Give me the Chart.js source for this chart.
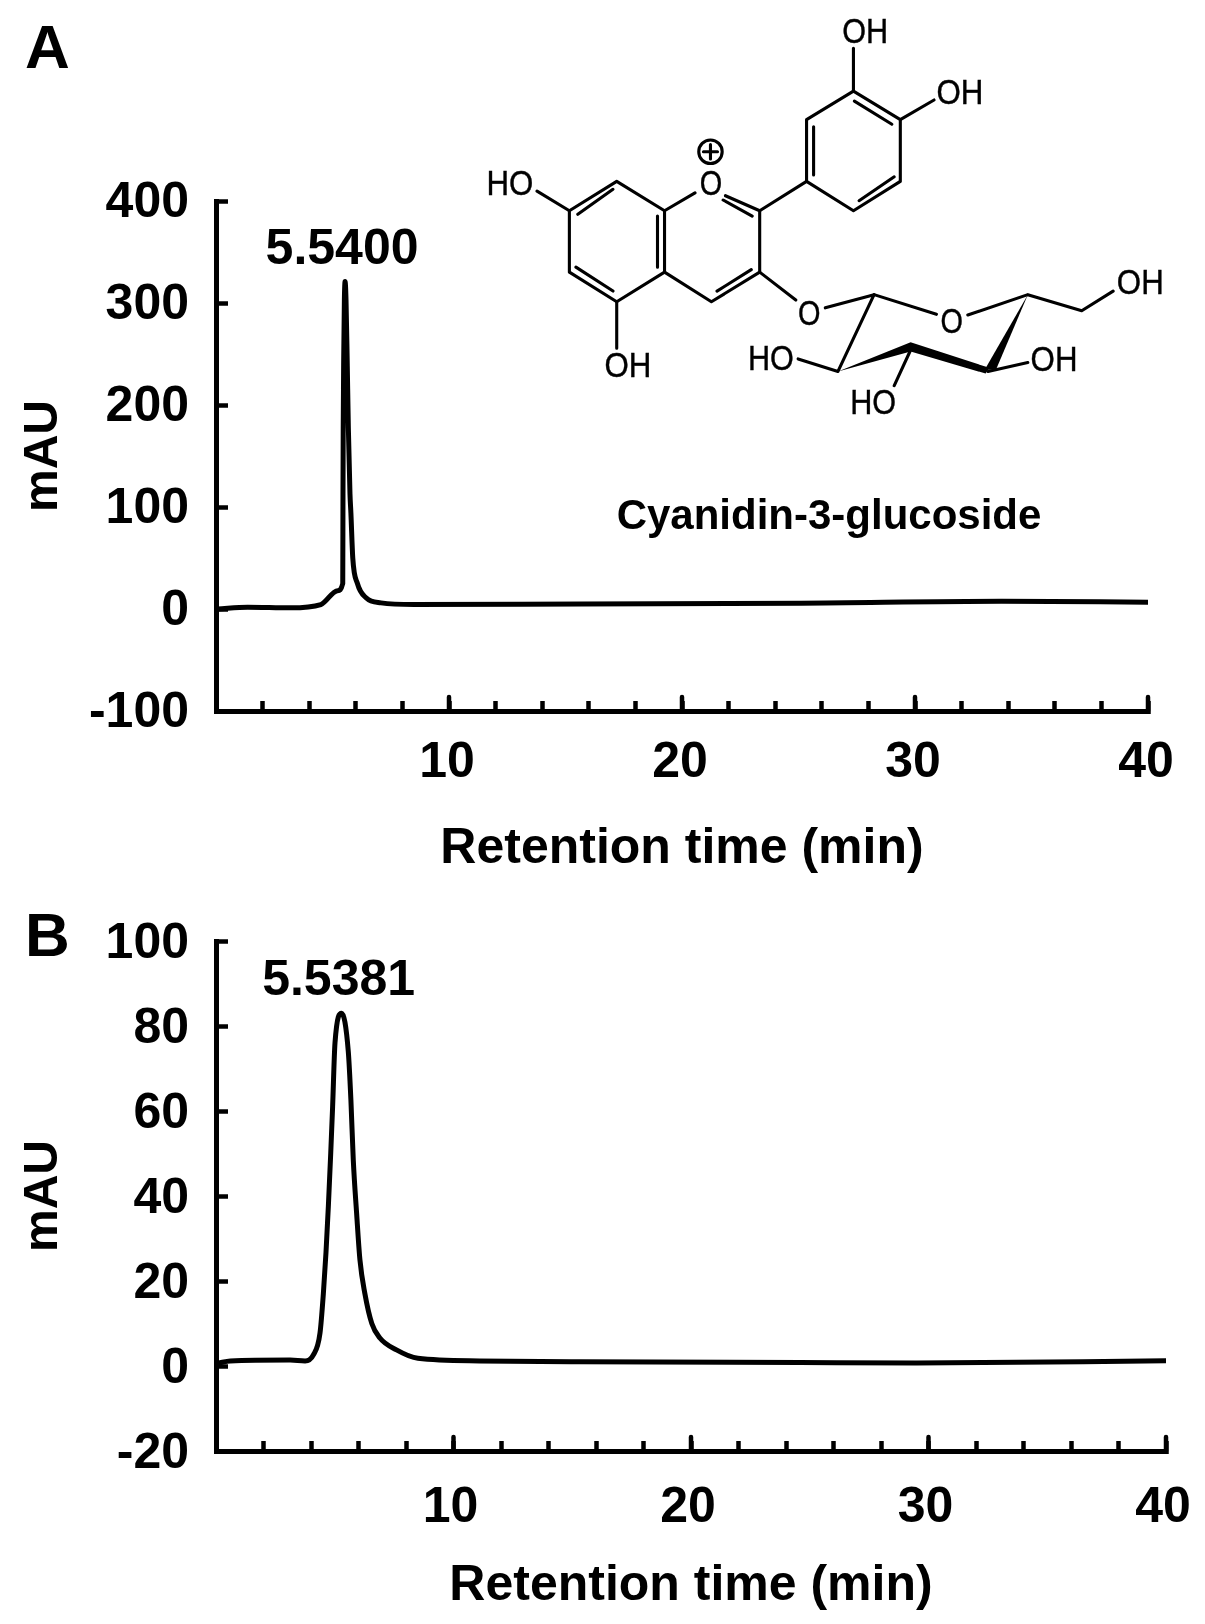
<!DOCTYPE html>
<html>
<head>
<meta charset="utf-8">
<script src="https://cdn.jsdelivr.net/npm/chart.js@4"></script>
<style>
html,body{margin:0;padding:0;background:#fff;}
#page{position:relative;width:1205px;height:1624px;overflow:hidden;background:#fff;font-family:"Liberation Sans",Arial,sans-serif;color:#000;}
canvas{position:absolute;left:0;display:block;}
.panel{position:absolute;font:bold 62px/62px "Liberation Sans",Arial,sans-serif;color:#000;}
svg{position:absolute;left:470px;top:0;}
.atoms text{vector-effect:non-scaling-stroke;stroke:#000;stroke-width:.5;}
</style>
</head>
<body>
<div id="page">
  <canvas id="chartA" width="1205" height="880" style="top:0"></canvas>
  <canvas id="chartB" width="1205" height="744" style="top:880px"></canvas>
  <div class="panel" style="left:25px;top:16px">A</div>
  <div class="panel" style="left:25px;top:904px">B</div>
  <svg width="735" height="560" viewBox="0 0 1568 1568" preserveAspectRatio="none" font-family="Liberation Sans, Arial, sans-serif" fill="#000">
    <g stroke="#000" stroke-width="3.1" fill="none" stroke-linecap="round" stroke-linejoin="round">
      <path vector-effect="non-scaling-stroke" d="M818 255L918 335L918 508L818 590L718 508L718 335Z"/>
      <path vector-effect="non-scaling-stroke" d="M820 283L900 348M905 495L830 562M733 490L733 355"/>
      <path vector-effect="non-scaling-stroke" d="M818 255L818 135M918 335L990 280M718 508L618 590"/>
      <path vector-effect="non-scaling-stroke" d="M415 590L480 540M545 548L618 590L618 762L515 845L415 762L415 590"/>
      <path vector-effect="non-scaling-stroke" d="M540 560L602 605M600 755L527 815M400 605L400 748"/>
      <path vector-effect="non-scaling-stroke" d="M415 590L313 508L212 590L212 762L313 845L415 762"/>
      <path vector-effect="non-scaling-stroke" d="M305 530L230 600M226 748L305 815"/>
      <path vector-effect="non-scaling-stroke" d="M212 590L143 535M313 845L313 975"/>
      <ellipse vector-effect="non-scaling-stroke" cx="513" cy="425" rx="25" ry="33"/>
      <path vector-effect="non-scaling-stroke" d="M513 405L513 445M498 425L528 425"/>
      <path vector-effect="non-scaling-stroke" d="M618 762L695 840M758 862L862 825L995 880M1062 882L1190 825L1305 870L1372 815"/>
      <path vector-effect="non-scaling-stroke" d="M862 825L785 1040M700 1005L785 1040M1105 1040L1190 1015M940 980L905 1080"/>
    </g>
    <polygon points="785,1040 940,958 1108,1030 1100,1046 940,984" fill="#000"/>
    <polygon points="1190,825 1098,1035 1122,1035" fill="#000"/>
    <g class="atoms" font-size="98" text-anchor="middle">
      <text x="843" y="120" textLength="98" lengthAdjust="spacingAndGlyphs">OH</text>
      <text x="1045" y="290" textLength="100" lengthAdjust="spacingAndGlyphs">OH</text>
      <text x="85" y="545" textLength="100" lengthAdjust="spacingAndGlyphs">HO</text>
      <text x="514" y="545" textLength="48" lengthAdjust="spacingAndGlyphs">O</text>
      <text x="337" y="1055" textLength="100" lengthAdjust="spacingAndGlyphs">OH</text>
      <text x="724" y="910" textLength="48" lengthAdjust="spacingAndGlyphs">O</text>
      <text x="1028" y="932" textLength="48" lengthAdjust="spacingAndGlyphs">O</text>
      <text x="1430" y="823" textLength="100" lengthAdjust="spacingAndGlyphs">OH</text>
      <text x="642" y="1035" textLength="98" lengthAdjust="spacingAndGlyphs">HO</text>
      <text x="1246" y="1040" textLength="100" lengthAdjust="spacingAndGlyphs">OH</text>
      <text x="860" y="1158" textLength="98" lengthAdjust="spacingAndGlyphs">HO</text>
    </g>
  </svg>
  <svg width="735" height="560" font-family="Liberation Sans, Arial, sans-serif" fill="#000">
    <text x="359" y="529" font-size="42" font-weight="bold" text-anchor="middle">Cyanidin-3-glucoside</text>
  </svg>
</div>
<script>
const timeA = [0.07,1.36,3.2,4.5,5.22,5.44,5.45,5.46,5.48,5.51,5.54,5.58,5.63,5.68,5.75,5.79,5.87,6.07,6.44,7.08,8.5,15.7,25.1,33.7,40];
const valueA = [0,1.8,1.2,4.4,18,25,113,178,244,303,321,303,244,178,113,94,50,25,11,6,4.4,5,5.7,7.6,6.7];
const timeB = [0.1,0.6,3.12,3.75,4.1,4.38,4.52,4.63,4.73,4.83,4.91,5.01,5.29,5.57,5.68,5.78,5.92,6.06,6.27,6.56,6.9,7.6,8.5,11.1,15.3,24.6,29.5,40];
const valueB = [0.7,1.2,1.4,1.2,2.6,7.8,17,26.6,37.5,50,61,76,83,74,62.6,48.5,36,25,17,10,6.6,3.8,1.8,1.2,1,0.8,0.7,1.25];
const peakLabelA = "5.5400";
const peakLabelB = "5.5381";
const labeledTicks = [10,20,30,40];
const xTitle = "Retention time (min)";
const yTitle = "mAU";

const INK = "#000";
const FAMILY = '"Liberation Sans", Arial, sans-serif';

const decor = {
  id: "decor",
  afterDraw(chart, args, opts) {
    const {ctx, scales:{x,y}} = chart;
    ctx.save();
    ctx.strokeStyle = INK;
    ctx.lineWidth = 4.5;
    ctx.lineCap = "round";
    labeledTicks.forEach(v => {
      const p = x.getPixelForValue(v);
      ctx.beginPath();
      ctx.moveTo(p, x.top);
      ctx.lineTo(p, x.top - 14);
      ctx.stroke();
    });
    const ds = chart.data.datasets[0].data;
    const peak = ds.reduce((a,b) => b.y > a.y ? b : a, ds[0]);
    ctx.fillStyle = INK;
    ctx.font = "bold 50px " + FAMILY;
    ctx.textAlign = "center";
    ctx.textBaseline = "alphabetic";
    ctx.fillText(opts.label, x.getPixelForValue(peak.x) - 3, y.getPixelForValue(peak.y) - 18);
    ctx.restore();
  }
};

function build(id, times, values, cfg) {
  new Chart(document.getElementById(id), {
    type: "line",
    data: { datasets: [{
      data: times.map((t,i) => ({x:t, y:values[i]})),
      borderColor: INK, borderWidth: 5, pointRadius: 0,
      cubicInterpolationMode: "monotone",
      borderCapStyle: "round", borderJoinStyle: "round"
    }]},
    plugins: [decor],
    options: {
      responsive: false, animation: false, devicePixelRatio: 1,
      layout: { padding: { left:0, top:cfg.top, right:cfg.right, bottom:0 } },
      plugins: { legend:{display:false}, tooltip:{enabled:false}, decor:{label:cfg.label} },
      scales: {
        x: {
          type: "linear", min: 0, max: 40,
          afterFit(s){ s.height = cfg.xh; s.paddingLeft = 0; s.paddingRight = 0; },
          border: { color: INK, width: 5 },
          grid: { drawOnChartArea:false, tickLength:-10, tickWidth:4.5, tickColor:INK },
          ticks: { stepSize:2, autoSkip:false, maxRotation:0, padding:cfg.xpad, labelOffset:cfg.xshift, color:INK,
            font:{family:FAMILY, weight:"bold", size:50, lineHeight:1},
            callback: v => labeledTicks.includes(v) ? String(v) : "" },
          title: { display:true, text:xTitle, color:INK,
            font:{family:FAMILY, weight:"bold", size:50, lineHeight:1},
            padding:{top:0, bottom:cfg.tpad} }
        },
        y: {
          min: cfg.ymin, max: cfg.ymax,
          afterFit(s){ s.width = 216; s.paddingTop = 0; s.paddingBottom = 0; },
          border: { color: INK, width: 5 },
          grid: { drawOnChartArea:false, tickLength:-12, tickWidth:4.5, tickColor:INK },
          ticks: { stepSize:cfg.ystep, padding:39, labelOffset:cfg.yshift, color:INK,
            font:{family:FAMILY, weight:"bold", size:50, lineHeight:1} },
          title: { display:true, text:yTitle, color:INK,
            font:{family:FAMILY, weight:"bold", size:48, lineHeight:1},
            padding:{top:20, bottom:0} }
        }
      }
    }
  });
}

build("chartA", timeA, valueA, {top:201, right:57, xh:169, xpad:37, tpad:6, xshift:-2, yshift:2, ymin:-100, ymax:400, ystep:100, label:peakLabelA});
build("chartB", timeB, valueB, {top:61, right:39, xh:173, xpad:42, tpad:13, xshift:-3, yshift:3, ymin:-20, ymax:100, ystep:20, label:peakLabelB});
</script>
</body>
</html>
